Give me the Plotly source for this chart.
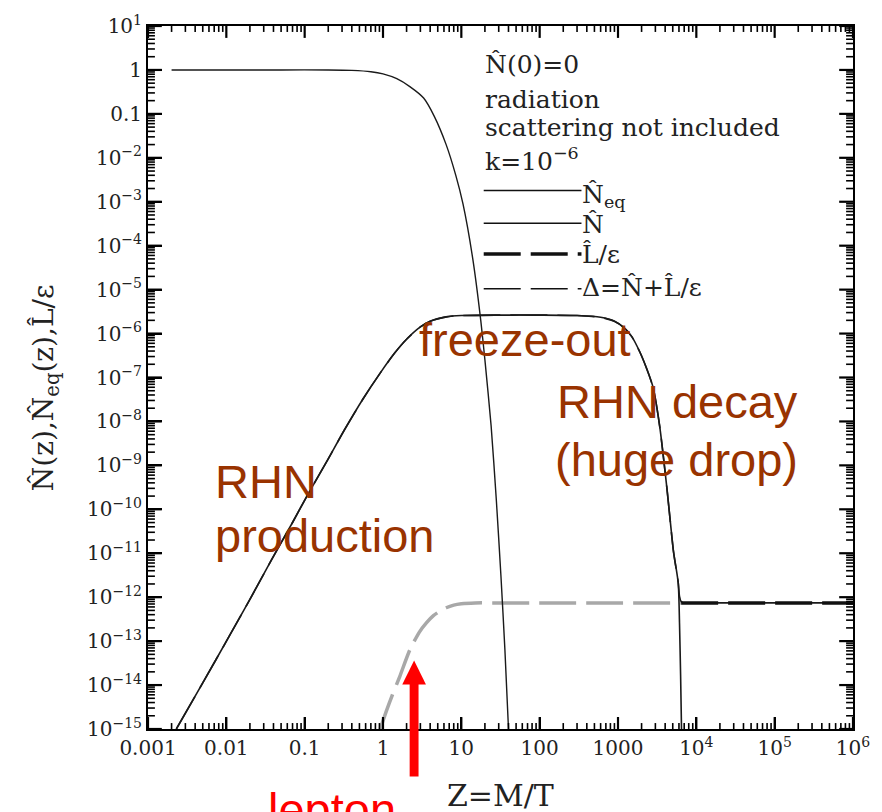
import plotly.graph_objects as go

# ---------------- data (log10 of the values) ----------------
# equilibrium abundance N_eq(z)
z_neq = [0.002, 0.01, 0.05, 0.2, 0.4, 0.7, 1.0, 1.5, 2.2, 3.3, 4.5, 6.4, 8.5, 10.5,
         14, 17.7, 20, 24, 28, 32, 36, 40]
log_neq = [0, 0, 0, 0, -0.01, -0.04, -0.09, -0.2, -0.38, -0.64, -1.05, -1.7, -2.4, -3.05,
           -4.3, -5.7, -6.6, -8.1, -9.8, -11.5, -13.2, -15]

# RHN abundance N(z)
z_n = [0.0023, 0.005, 0.0108, 0.02, 0.0377, 0.07, 0.11, 0.2, 0.32, 0.55, 0.92, 1.4, 2.0,
       3.0, 4.0, 6.4, 10, 30, 100, 300, 600, 900, 1200, 1500, 1900, 2300, 2800, 3400,
       4200, 5100, 5870, 6100, 6300, 6470]
log_n = [-15, -13.95, -12.9, -12.05, -11.15, -10.3, -9.66, -8.85, -8.2, -7.5, -6.9, -6.45,
         -6.13, -5.85, -5.72, -5.62, -5.59, -5.58, -5.58, -5.59, -5.63, -5.72, -5.87, -6.07,
         -6.42, -6.78, -7.22, -8.1, -9.5, -10.95, -11.67, -12.6, -13.8, -15]

# Delta = N + L/eps
z_d = [0.0023, 0.005, 0.0108, 0.02, 0.0377, 0.07, 0.11, 0.2, 0.32, 0.55, 0.92, 1.4, 2.0,
       3.0, 4.0, 6.4, 10, 30, 100, 300, 600, 900, 1200, 1500, 1900, 2300, 2800, 3400,
       4200, 5100, 5870, 6100, 6400, 6800, 1e4, 1e5, 1e6]
log_d = [-15, -13.95, -12.9, -12.05, -11.15, -10.3, -9.66, -8.85, -8.2, -7.5, -6.9, -6.45,
         -6.13, -5.85, -5.72, -5.62, -5.59, -5.58, -5.58, -5.59, -5.63, -5.72, -5.87, -6.07,
         -6.42, -6.78, -7.22, -8.1, -9.5, -10.95, -11.67, -11.98, -12.1, -12.13, -12.13,
         -12.13, -12.13]

# lepton asymmetry L/eps
z_l = [0.92, 1.1, 1.3, 1.64, 2.2, 2.9, 3.6, 4.4, 5.3, 6.4, 8, 10, 15, 30, 100, 1000,
       6400, 1e4, 1e5, 1e6]
log_l = [-15, -14.6, -14.25, -13.8, -13.2, -12.8, -12.58, -12.42, -12.32, -12.24, -12.18,
         -12.15, -12.13, -12.13, -12.13, -12.13, -12.13, -12.13, -12.13, -12.13]
l_split = 6400   # grey up to here, black afterwards

x_tickvals = [1e-3, 1e-2, 1e-1, 1, 10, 100, 1000, 1e4, 1e5, 1e6]
x_ticktext = ["0.001", "0.01", "0.1", "1", "10", "100", "1000",
              "10<sup>4</sup>", "10<sup>5</sup>", "10<sup>6</sup>"]
y_exps = list(range(1, -16, -1))
y_ticktext = ["10<sup>1</sup>", "1", "0.1"] + ["10<sup>\u2212%d</sup>" % (-e) for e in y_exps[3:]]

# ---------------- figure ----------------
W, H = 882, 812
ML, MR, MT, MB = 148, 20, 20, 83
PW, PH = W - ML - MR, H - MT - MB


def px(x):
    return (x - ML) / PW


def py(y):
    return 1 - (y - MT) / PH


def pw(vals):
    return [10 ** v for v in vals]


y_tickvals = [10.0 ** e for e in y_exps]
x_minor = [m * 10.0 ** e for e in range(-3, 6) for m in range(2, 10)]
y_minor = [m * 10.0 ** e for e in range(-15, 1) for m in range(2, 10)]

fig = go.Figure()
dash = "37px,10px"

lz_g = [z for z in z_l if z <= l_split]
lv_g = [v for z, v in zip(z_l, log_l) if z <= l_split]
lz_b = [z for z in z_l if z >= l_split]
lv_b = [v for z, v in zip(z_l, log_l) if z >= l_split]

fig.add_trace(go.Scatter(x=lz_g, y=pw(lv_g), mode="lines",
                         line=dict(color="#a8a8a8", width=3.5, dash=dash, shape="spline", smoothing=0.6)))
fig.add_trace(go.Scatter(x=z_neq, y=pw(log_neq), mode="lines",
                         line=dict(color="#1a1a1a", width=1.4, shape="spline", smoothing=0.6)))
fig.add_trace(go.Scatter(x=z_n, y=pw(log_n), mode="lines",
                         line=dict(color="#1a1a1a", width=1.6, shape="spline", smoothing=0.6)))
fig.add_trace(go.Scatter(x=z_d, y=pw(log_d), mode="lines",
                         line=dict(color="#1a1a1a", width=1.6, dash=dash, shape="spline", smoothing=0.6)))
fig.add_trace(go.Scatter(x=lz_b, y=pw(lv_b), mode="lines",
                         line=dict(color="#111111", width=3.5, dash=dash)))

serif = "DejaVu Serif"
xr, yr = [-3, 6], [-15, 1]

fig.update_layout(
    xaxis=dict(type="log", range=xr, showgrid=False, zeroline=False,
               tickmode="array", tickvals=x_tickvals, ticktext=x_ticktext,
               ticks="inside", ticklen=12, tickwidth=2, tickcolor="black",
               showline=True, linewidth=2, linecolor="black", mirror=True,
               tickfont=dict(family=serif, size=20, color="#222")),
    yaxis=dict(type="log", range=yr, showgrid=False, zeroline=False,
               tickmode="array", tickvals=y_tickvals, ticktext=y_ticktext,
               ticks="inside", ticklen=14, tickwidth=2, tickcolor="black",
               showline=True, linewidth=2, linecolor="black", mirror=True,
               tickfont=dict(family=serif, size=20, color="#222")),
)

annotations = []
shapes = []

# tick marks on all four sides (placed through the axes' own scales)
XMAJ, XMIN, YMAJ, YMIN = 12, 6, 14, 7
for vals, ln, wd in [(x_tickvals, XMAJ, 2.2), (x_minor, XMIN, 1.6)]:
    for v in vals:
        for y0, y1 in [(0, ln / PH), (1, 1 - ln / PH)]:
            shapes.append(dict(type="line", xref="x", yref="paper", x0=v, x1=v, y0=y0, y1=y1,
                               line=dict(color="black", width=wd), layer="above"))
for vals, ln, wd in [(y_tickvals, YMAJ, 2.2), (y_minor, YMIN, 1.6)]:
    for v in vals:
        for x0, x1 in [(0, ln / PW), (1, 1 - ln / PW)]:
            shapes.append(dict(type="line", xref="paper", yref="y", x0=x0, x1=x1, y0=v, y1=v,
                               line=dict(color="black", width=wd), layer="above"))

# axis titles
annotations.append(dict(text="Z=M/T", x=px(505), y=py(796), xref="paper", yref="paper",
                        showarrow=False, xanchor="center", yanchor="middle",
                        font=dict(family=serif, size=30, color="#222")))
annotations.append(dict(text="N\u0302(z),N\u0302<sub>eq</sub>(z),L\u0302/\u03b5", x=px(45), y=py(385),
                        xref="paper", yref="paper", showarrow=False, textangle=-90,
                        xanchor="center", yanchor="middle",
                        font=dict(family=serif, size=28, color="#222")))

# legend block
leg_font = dict(family=serif, size=25, color="#222")
for txt, yb in [("N\u0302(0)=0", 59), ("radiation", 94), ("scattering not included", 122),
                ("k=10<sup>\u22126</sup>", 155)]:
    annotations.append(dict(text=txt, x=px(487), y=py(yb), xref="paper", yref="paper",
                            showarrow=False, xanchor="left", yanchor="middle", font=leg_font))
entries = [("N\u0302<sub>eq</sub>", 186, 1.5, "solid", 191),
           ("N\u0302", 219, 1.5, "solid", 220),
           ("L\u0302/\u03b5", 250, 3.5, dash, 250),
           ("\u0394=N\u0302+L\u0302/\u03b5", 285, 1.5, dash, 284)]
for txt, yl, wdt, ds, yt in entries:
    shapes.append(dict(type="line", xref="paper", yref="paper", x0=px(488), x1=px(587),
                       y0=py(yl), y1=py(yl), line=dict(color="#111", width=wdt, dash=ds)))
    annotations.append(dict(text=txt, x=px(586), y=py(yt), xref="paper", yref="paper",
                            showarrow=False, xanchor="left", yanchor="middle", font=leg_font))

# brown explanatory labels
brown = "rgb(153,51,0)"
bfont = dict(family="Liberation Sans, Arial", size=47, color=brown)
for txt, xl, yb in [("freeze-out", 420, 352), ("RHN decay", 560, 415), ("(huge drop)", 558, 473),
                    ("RHN", 214, 495), ("production", 214, 550)]:
    annotations.append(dict(text=txt, x=px(xl), y=py(yb - 16), xref="paper", yref="paper",
                            showarrow=False, xanchor="left", yanchor="middle", font=bfont))

# red arrow + "lepton"
red = "#ff0000"
shapes.append(dict(type="rect", xref="paper", yref="paper", x0=px(413), x1=px(422),
                   y0=py(777), y1=py(682), fillcolor=red, line=dict(width=0)))
shapes.append(dict(type="path", xref="paper", yref="paper",
                   path="M %f,%f L %f,%f L %f,%f Z" % (px(405.5), py(684), px(429.5), py(684),
                                                       px(417.5), py(660)),
                   fillcolor=red, line=dict(width=0)))
annotations.append(dict(text="lepton", x=px(401), y=py(826 - 16), xref="paper", yref="paper",
                        showarrow=False, xanchor="right", yanchor="middle",
                        font=dict(family="Liberation Sans, Arial", size=47, color=red)))

fig.update_layout(width=W, height=H, margin=dict(l=ML, r=MR, t=MT, b=MB),
                  paper_bgcolor="white", plot_bgcolor="white", showlegend=False,
                  annotations=annotations, shapes=shapes)

fig.write_html("out.html")
